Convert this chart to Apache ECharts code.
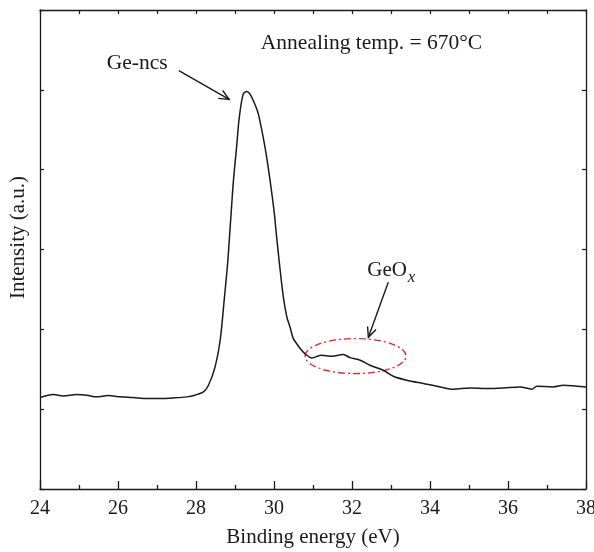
<!DOCTYPE html>
<html><head><meta charset="utf-8">
<script src="https://cdn.jsdelivr.net/npm/echarts@6/dist/echarts.min.js"></script>
<style>html,body{margin:0;padding:0;background:#fff}#c{width:594px;height:552px}</style>
</head><body><div id="c"></div>
<script>
// Binding energy (eV)
const energy = [24.00,24.34,24.60,24.94,25.20,25.45,25.75,26.05,26.39,26.74,27.08,27.42,27.76,27.97,28.19,28.32,28.49,28.62,28.73,28.81,28.87,28.90,28.96,29.04,29.11,29.21,29.30,29.38,29.51,29.60,29.77,29.90,30.01,30.05,30.14,30.24,30.33,30.41,30.49,30.58,30.67,30.79,30.97,31.22,31.44,31.78,31.95,32.21,32.46,32.80,33.06,33.40,33.83,34.26,34.60,35.03,35.45,35.88,36.31,36.61,36.74,37.16,37.42,37.76,38.00];
// Intensity (a.u.)
const intensity = [1.146,1.184,1.166,1.184,1.175,1.154,1.171,1.154,1.146,1.134,1.134,1.141,1.154,1.175,1.216,1.300,1.529,1.863,2.404,2.821,3.238,3.450,3.863,4.279,4.654,4.946,4.979,4.950,4.820,4.696,4.279,3.863,3.446,3.238,2.821,2.404,2.154,2.029,1.890,1.821,1.759,1.696,1.641,1.675,1.663,1.684,1.646,1.613,1.550,1.488,1.413,1.363,1.321,1.279,1.250,1.266,1.259,1.266,1.279,1.250,1.288,1.279,1.300,1.288,1.279];
const xTickLabels = ['24','26','28','30','32','34','36','38'];
const titleText = 'Annealing temp. = 670°C';
const peakLabel = 'Ge-ncs';
const oxideLabel = 'GeO';
const oxideSub = 'x';
// annotation anchors in data coordinates
const titlePos = [32.5, 5.58];
const peakLabelPos = [26.49, 5.33];
const oxideLabelPos = [33.41, 2.74];
const oxideSubPos = [33.43, 2.65];
const arrow1 = [[27.56, 5.24], [28.85, 4.88]];
const arrow2 = [[32.93, 2.59], [32.42, 1.90]];
const ellipseCenter = [32.09, 1.665];
const ellipseRadii = [1.295, 0.219];

const FONT = "Liberation Serif";
const INK = '#1a1a1a';
const data = energy.map((e, i) => [e, intensity[i]]);

const axisLine = {show: true, onZero: false, lineStyle: {color: INK, width: 1.3}};
const option = {
  animation: false,
  backgroundColor: '#fff',
  textStyle: {fontFamily: FONT},
  grid: {left: 40, top: 10, width: 546, height: 479, containLabel: false, outerBoundsMode: 'none'},
  xAxis: [{
    type: 'value', min: 24, max: 38, interval: 2, position: 'bottom',
    axisLine: axisLine,
    axisTick: {show: true, inside: true, length: 8, lineStyle: {color: INK, width: 1.3}},
    minorTick: {show: true, splitNumber: 2, length: 4, lineStyle: {color: INK, width: 1.3}},
    splitLine: {show: false},
    axisLabel: {show: true, margin: 10, color: INK, fontFamily: FONT, fontSize: 20,
      formatter: v => xTickLabels[Math.round((v - 24) / 2)] || ''},
    name: 'Binding energy (eV)', nameLocation: 'middle', nameGap: 38,
    nameTextStyle: {color: INK, fontFamily: FONT, fontSize: 21}
  }, {
    type: 'value', min: 24, max: 38, interval: 1, position: 'top',
    axisLine: axisLine,
    axisTick: {show: true, inside: true, length: 4, lineStyle: {color: INK, width: 1.2}},
    axisLabel: {show: false}, splitLine: {show: false}
  }],
  yAxis: [{
    type: 'value', min: 0, max: 6, interval: 1, position: 'left',
    axisLine: axisLine,
    axisTick: {show: true, inside: true, length: 4, lineStyle: {color: INK, width: 1.2}},
    axisLabel: {show: false}, splitLine: {show: false},
    name: 'Intensity (a.u.)', nameLocation: 'middle', nameGap: 11,
    nameTextStyle: {color: INK, fontFamily: FONT, fontSize: 21, padding: [0, 0, 0, 24]}
  }, {
    type: 'value', min: 0, max: 6, interval: 1, position: 'right',
    axisLine: axisLine,
    axisTick: {show: true, inside: true, length: 4, lineStyle: {color: INK, width: 1.2}},
    axisLabel: {show: false}, splitLine: {show: false}
  }],
  series: [{
    type: 'line', xAxisIndex: 0, yAxisIndex: 0, data: data,
    showSymbol: false, smooth: 0.3,
    lineStyle: {color: INK, width: 1.5}
  }]
};

const chart = echarts.init(document.getElementById('c'), null, {renderer: 'canvas'});
chart.setOption(option);

const px = p => chart.convertToPixel({seriesIndex: 0}, p);
function arrowEls(a) {
  const s = px(a[0]), t = px(a[1]);
  const dx = t[0] - s[0], dy = t[1] - s[1];
  const L = Math.hypot(dx, dy), ux = dx / L, uy = dy / L;
  const h = 11, ang = 0.42;
  const rot = (x, y, th) => [x * Math.cos(th) - y * Math.sin(th), x * Math.sin(th) + y * Math.cos(th)];
  const r1 = rot(-ux, -uy, ang), r2 = rot(-ux, -uy, -ang);
  const st = {stroke: INK, lineWidth: 1.4, fill: null};
  return [
    {type: 'line', shape: {x1: s[0], y1: s[1], x2: t[0], y2: t[1]}, style: st, silent: true},
    {type: 'polyline', shape: {points: [[t[0] + r1[0] * h, t[1] + r1[1] * h], t, [t[0] + r2[0] * h, t[1] + r2[1] * h]]}, style: st, silent: true}
  ];
}
function textEl(text, pos, size, align, extra) {
  const p = px(pos);
  return {type: 'text', x: p[0], y: p[1], silent: true,
    style: Object.assign({text: text, fill: INK, fontFamily: FONT, fontSize: size, align: align, verticalAlign: 'middle'}, extra || {})};
}
const c = px(ellipseCenter);
const cx2 = px([ellipseCenter[0] + ellipseRadii[0], ellipseCenter[1] + ellipseRadii[1]]);
const rx = Math.abs(cx2[0] - c[0]), ry = Math.abs(cx2[1] - c[1]);

chart.setOption({
  graphic: [
    textEl(titleText, titlePos, 21.5, 'center'),
    textEl(peakLabel, peakLabelPos, 21.5, 'center'),
    textEl(oxideLabel, oxideLabelPos, 21, 'right'),
    textEl(oxideSub, oxideSubPos, 17, 'left', {fontStyle: 'italic'}),
    ...arrowEls(arrow1),
    ...arrowEls(arrow2),
    {type: 'ellipse', shape: {cx: c[0], cy: c[1], rx: rx, ry: ry}, silent: true,
      style: {stroke: '#e8202a', lineWidth: 1.3, fill: null, lineDash: [7, 3, 2, 3]}}
  ]
});
</script>
</body></html>
